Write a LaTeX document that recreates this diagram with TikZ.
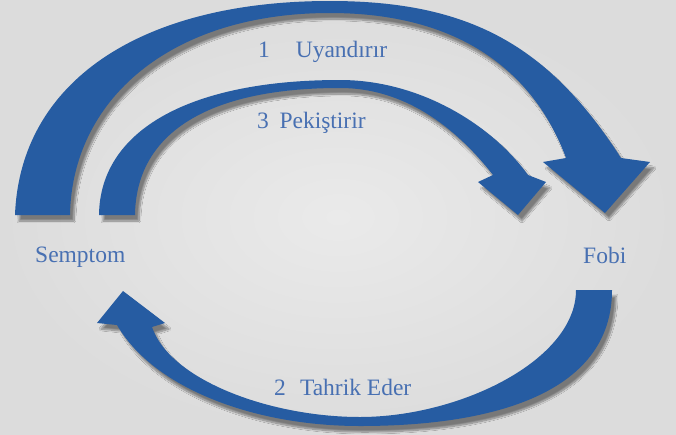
\documentclass[tikz,border=0pt]{standalone}
\usepackage{fontspec}
\setmainfont{Liberation Serif}
\usetikzlibrary{shadows.blur}
\definecolor{arrowblue}{RGB}{38,92,162}
\definecolor{labelblue}{RGB}{72,112,178}
\definecolor{paper}{RGB}{220,220,220}
\definecolor{paperlight}{RGB}{234,234,234}

\begin{document}
\begin{tikzpicture}[x=1pt,y=-1pt,
    band/.style={fill=arrowblue,blur shadow={shadow xshift=4pt,shadow yshift=-6pt,shadow opacity=45,shadow blur steps=12}},
    lbl/.style={font=\rmfamily\fontsize{23.5}{28}\selectfont,text=labelblue,inner sep=0pt,anchor=base west}]
  \shade[inner color=paperlight,outer color=paper] (0,0) rectangle (676,434);
  \useasboundingbox (0,0) rectangle (676,434);
  % 1 Uyandirir
  \path[band] (15,215) .. controls (20,82) and (140,1) .. (330,1)
    .. controls (470,1) and (549,46) .. (621,158)
    -- (650,162) -- (605,213) -- (543,162) -- (566,158)
    .. controls (534,72) and (460,13) .. (330,13)
    .. controls (170,13) and (72,100) .. (70,215) -- cycle;
  % 3 Pekistirir
  \path[band] (99,215) .. controls (100,130) and (190,80) .. (340,80)
    .. controls (420,80) and (492,125) .. (528,175)
    -- (546,182) -- (518,215) -- (478,182) -- (493,175)
    .. controls (461,134) and (410,88) .. (340,88)
    .. controls (205,88) and (136,135) .. (135,215) -- cycle;
  % 2 Tahrik Eder
  \path[band] (612,290) .. controls (612,390) and (500,426) .. (360,426)
    .. controls (250,426) and (152,386) .. (117,325)
    -- (97,323) -- (123,291) -- (165,323) -- (152,327)
    .. controls (170,380) and (270,417) .. (360,417)
    .. controls (460,417) and (576,360) .. (576,290) -- cycle;
  \node[lbl] (uyandirir) at (258,57) {1\hspace{1.1em}Uyandırır};
  \node[lbl] (pekistirir) at (257,128) {3\hspace{0.45em}Pekiştirir};
  \node[lbl] (tahrik) at (274,395) {2\hspace{0.6em}Tahrik Eder};
  \node[lbl] (semptom) at (35,262) {Semptom};
  \node[lbl] (fobi) at (583,263) {Fobi};
\end{tikzpicture}
\end{document}
